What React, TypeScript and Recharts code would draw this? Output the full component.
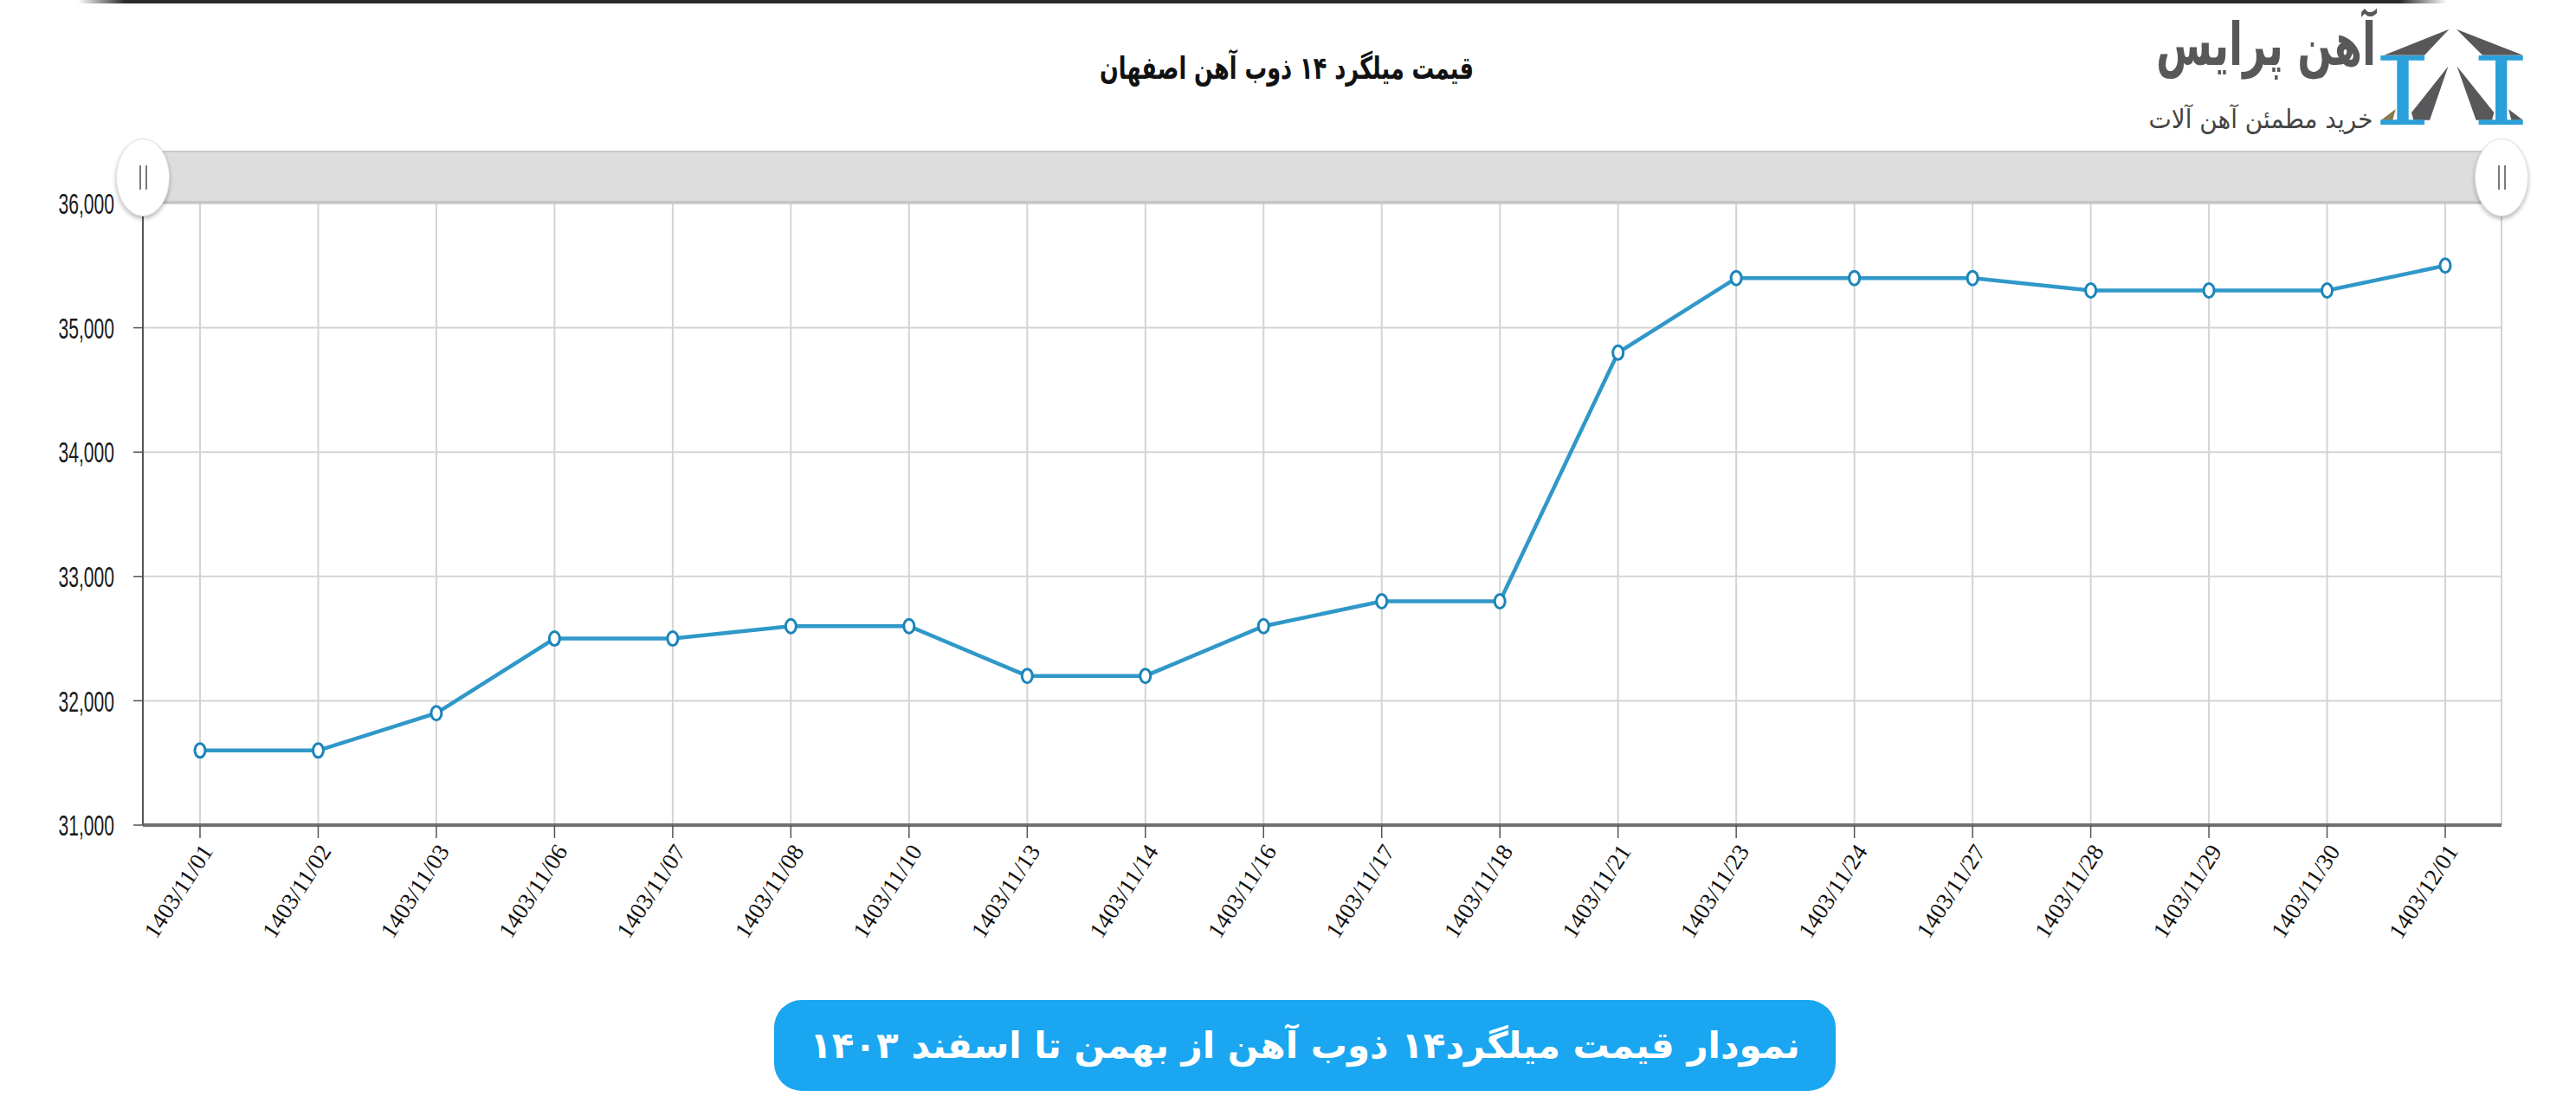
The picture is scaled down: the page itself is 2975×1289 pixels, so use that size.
import { LineChart, Line, XAxis, YAxis, CartesianGrid } from 'recharts'

const dates = [
    '1403/11/01', '1403/11/02', '1403/11/03', '1403/11/06', '1403/11/07',
    '1403/11/08', '1403/11/10', '1403/11/13', '1403/11/14', '1403/11/16',
    '1403/11/17', '1403/11/18', '1403/11/21', '1403/11/23', '1403/11/24',
    '1403/11/27', '1403/11/28', '1403/11/29', '1403/11/30', '1403/12/01',
]
const prices = [
    31600, 31600, 31900, 32500, 32500,
    32600, 32600, 32200, 32200, 32600,
    32800, 32800, 34800, 35400, 35400,
    35400, 35300, 35300, 35300, 35500,
]
const yTicks = [31000, 32000, 33000, 34000, 35000, 36000]

const chartTitle = 'قیمت میلگرد ۱۴ ذوب آهن اصفهان'
const bannerText = 'نمودار قیمت میلگرد۱۴ ذوب آهن از بهمن تا اسفند ۱۴۰۳'
const brandName = 'آهن پرایس'
const brandSlogan = 'خرید مطمئن آهن آلات'

const data = dates.map((d, i) => ({ date: d, price: prices[i] }))

const LINE_COLOR = '#3098c8'
const PERSIAN_FONT = '"DejaVu Sans", "Noto Sans", sans-serif'

function YTick({ x, y, payload }: any) {
    return (
        <g transform={`translate(${x},${y}) scale(0.62,1)`}>
            <text x={0} y={0} dy="0.36em" textAnchor="end" fontSize={34} fill="#1a1a1a"
                fontFamily='"Liberation Sans", Arial, sans-serif'>
                {payload.value.toLocaleString('en-US')}
            </text>
        </g>
    )
}

function XTick({ x, y, payload }: any) {
    return (
        <g transform={`translate(${x + 8},${y + 8}) rotate(-57)`}>
            <text x={0} y={0} dy="0.35em" textAnchor="end" fontSize={27} fill="#111"
                fontFamily='"Liberation Serif", serif'>
                {payload.value}
            </text>
        </g>
    )
}

function PointDot({ cx, cy }: any) {
    if (cx == null || cy == null) return null
    return <ellipse cx={cx} cy={cy} rx={6} ry={8} fill="#fff" stroke="#1c85b8" strokeWidth={3} />
}

function Handle({ left }: { left: number }) {
    return (
        <div style={{
            position: 'absolute', left: left - 31, top: 160, width: 62, height: 90,
            borderRadius: '50%', background: '#fff', border: '1px solid #e2e2e2',
            boxShadow: '0 3px 5px rgba(0,0,0,0.28)', boxSizing: 'border-box',
        }}>
            <div style={{ position: 'absolute', left: 26, top: 30, width: 2, height: 28, background: '#7a7a7a' }} />
            <div style={{ position: 'absolute', left: 33, top: 30, width: 2, height: 28, background: '#7a7a7a' }} />
        </div>
    )
}

function Logo() {
    return (
        <div style={{ position: 'absolute', left: 2440, top: 26, width: 480, height: 130 }}>
            <div style={{
                position: 'absolute', right: 176, top: -14, direction: 'rtl', fontFamily: PERSIAN_FONT,
                fontWeight: 'bold', fontSize: 68, color: '#58585a', whiteSpace: 'nowrap',
                transform: 'scaleX(0.69)', transformOrigin: 'right center',
            }}>{brandName}</div>
            <div style={{
                position: 'absolute', right: 180, top: 94, direction: 'rtl', fontFamily: PERSIAN_FONT,
                fontSize: 30, color: '#444', whiteSpace: 'nowrap',
                transform: 'scaleX(0.93)', transformOrigin: 'right center',
            }}>{brandSlogan}</div>
            <svg style={{ position: 'absolute', left: 309, top: 7 }} width={166} height={112} viewBox="148 40 495 335">
                <polygon points="385,42 160,132 300,132" fill="#58585a" />
                <polygon points="410,42 640,132 500,132" fill="#58585a" />
                <polygon points="382,170 255,330 262,356 318,356" fill="#58585a" />
                <polygon points="412,170 540,330 533,356 478,356" fill="#58585a" />
                <polygon points="590,318 640,356 600,356" fill="#58585a" />
                <polygon points="200,318 150,356 190,356" fill="#8a7a4a" />
                <rect x={148} y={133} width={152} height={17} fill="#2b9fd9" />
                <rect x={205} y={148} width={40} height={210} fill="#2b9fd9" />
                <rect x={148} y={355} width={152} height={17} fill="#2b9fd9" />
                <rect x={487} y={133} width={153} height={17} fill="#2b9fd9" />
                <rect x={545} y={148} width={40} height={210} fill="#2b9fd9" />
                <rect x={487} y={355} width={153} height={17} fill="#2b9fd9" />
            </svg>
        </div>
    )
}

export default function App() {
    return (
        <div style={{ position: 'absolute', left: 0, top: 0, width: 2975, height: 1289, background: '#fff', overflow: 'hidden' }}>
            <div style={{
                position: 'absolute', left: 90, top: 0, width: 2736, height: 4,
                background: 'linear-gradient(to right, rgba(40,40,40,0), #2a2a2a 2%, #2a2a2a 98%, rgba(40,40,40,0))',
            }} />

            <div style={{ position: 'absolute', left: 0, top: 0 }}>
                <LineChart width={2975} height={1289} data={data}
                    margin={{ top: 235, right: 86, bottom: 216, left: 65 }}>
                    <CartesianGrid stroke="#d4d4d4" strokeWidth={2} />
                    <XAxis
                        dataKey="date"
                        interval={0}
                        padding={{ left: 66, right: 65 }}
                        height={120}
                        tickSize={15}
                        tick={<XTick />}
                        axisLine={{ stroke: '#707070', strokeWidth: 4 }}
                        tickLine={{ stroke: '#555', strokeWidth: 1.5 }}
                    />
                    <YAxis
                        domain={[31000, 36000]}
                        ticks={yTicks}
                        interval={0}
                        width={100}
                        tickSize={11}
                        tickMargin={22}
                        tick={<YTick />}
                        axisLine={{ stroke: '#555', strokeWidth: 2 }}
                        tickLine={{ stroke: '#555', strokeWidth: 1.5 }}
                    />
                    <Line
                        type="linear"
                        dataKey="price"
                        stroke={LINE_COLOR}
                        strokeWidth={4.5}
                        dot={<PointDot />}
                        activeDot={false}
                        isAnimationActive={false}
                    />
                </LineChart>
            </div>

            {/* navigator bar */}
            <div style={{
                position: 'absolute', left: 165, top: 174, width: 2724, height: 61,
                background: '#dddddd', borderTop: '2px solid #cacaca', borderBottom: '3px solid #c6c6c6',
                boxSizing: 'border-box',
            }} />
            <Handle left={165} />
            <Handle left={2889} />

            <div style={{
                position: 'absolute', left: 1086, top: 58, width: 800, textAlign: 'center',
                direction: 'rtl', fontFamily: PERSIAN_FONT, fontWeight: 'bold', fontSize: 36, color: '#111',
                transform: 'scaleX(0.71)', transformOrigin: 'center center',
            }}>{chartTitle}</div>

            <Logo />

            <div style={{
                position: 'absolute', left: 894, top: 1155, width: 1226, height: 105,
                borderRadius: 32, background: '#1aa6f0', display: 'flex', alignItems: 'center',
                justifyContent: 'center', direction: 'rtl', fontFamily: PERSIAN_FONT,
                fontWeight: 'bold', fontSize: 42, color: '#fff', whiteSpace: 'nowrap',
            }}>{bannerText}</div>
        </div>
    )
}
